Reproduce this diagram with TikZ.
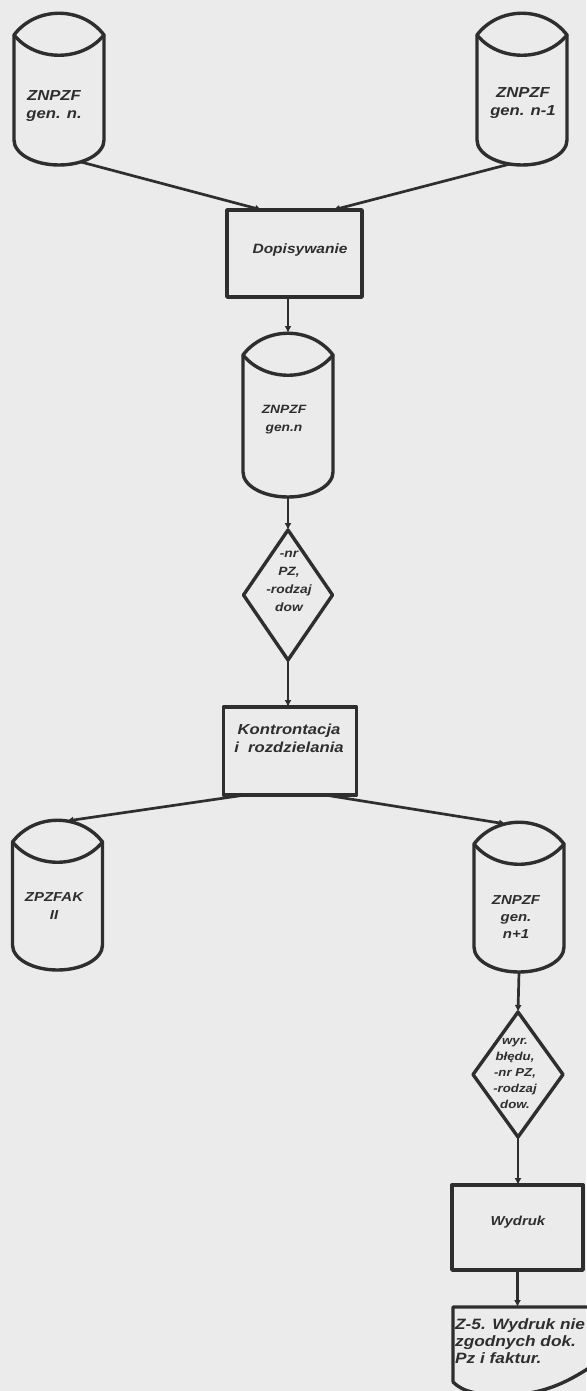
\documentclass[tikz,border=0pt]{standalone}
\usepackage{fontspec}
\newfontfamily\lblfont[FakeStretch=1.15]{Liberation Sans}
\usetikzlibrary{shapes.geometric,arrows.meta,calc}

\definecolor{ink}{HTML}{2E2E2E}
\definecolor{paper}{HTML}{EBEBEB}

\tikzset{
  shp/.style={draw=ink, line width=3.4pt, line join=round, line cap=round},
  holder/.style={inner sep=0pt, outer sep=0pt, minimum width=90pt},
  procbox/.style={shp, rectangle, inner sep=0pt, outer sep=0pt},
  decis/.style={shp, diamond, inner sep=0pt, outer sep=0pt},
  lbl/.style n args={2}{text=ink, align=center, inner sep=0pt,
    font=\lblfont\bfseries\itshape\fontsize{#1}{#2}\selectfont},
  flow/.style={draw=ink, line width=2.7pt, -{Latex[length=7pt,width=7pt]}},
}

% outline of a storage cylinder around an invisible holder node
\newcommand{\cylout}[1]{%
  \draw[shp] ([yshift=-22pt]#1.north west) -- ([yshift=25pt]#1.south west)
    arc[start angle=180,end angle=360,x radius=45pt,y radius=25pt]
    -- ([yshift=-22pt]#1.north east)
    .. controls ([shift={(-22pt,7pt)}]#1.north east) and ([shift={(22pt,7pt)}]#1.north west)
    .. ([yshift=-22pt]#1.north west);
  \draw[shp] ([yshift=-22pt]#1.north west)
    .. controls ([shift={(22pt,-49pt)}]#1.north west) and ([shift={(-22pt,-49pt)}]#1.north east)
    .. ([yshift=-22pt]#1.north east);
}

\begin{document}
\begin{tikzpicture}[x=1pt,y=1pt]
\useasboundingbox (0,0) rectangle (586,-1391);
\fill[paper] (0,0) rectangle (586,-1391);

% storage cylinders
\node[holder, minimum height=152pt] (c1) at (59,-89) {};
\node[holder, minimum height=152pt] (c2) at (522,-89) {};
\node[holder, minimum height=164pt] (c3) at (288,-415) {};
\node[holder, minimum height=150pt] (c4) at (57.5,-895) {};
\node[holder, minimum height=150pt] (c5) at (519,-897) {};
\cylout{c1}\cylout{c2}\cylout{c3}\cylout{c4}\cylout{c5}

\node[lbl={14.5pt}{18pt}] (c1l) at (54,-106) {ZNPZF\\gen. n.};
\node[lbl={14.5pt}{18pt}] (c2l) at (523,-103) {ZNPZF\\gen. n-1};
\node[lbl={12pt}{18pt}] (c3l) at (284,-420) {ZNPZF\\gen.n};
\node[lbl={13pt}{18pt}] (c4l) at (54,-906) {ZPZFAK\\II};
\node[lbl={13pt}{17pt}] (c5l) at (516,-917) {ZNPZF\\gen.\\n+1};

% processes
\node[procbox, minimum width=135pt, minimum height=87pt] (b1) at (294.5,-253.5) {};
\node[lbl={13.5pt}{16pt}] (b1l) at (300,-250) {Dopisywanie};
\node[procbox, minimum width=133pt, minimum height=88pt] (b2) at (290,-751) {};
\node[lbl={14.5pt}{18pt}] (b2l) at (289,-738) {Kontrontacja\\i\ \ rozdzielania};
\node[procbox, minimum width=131pt, minimum height=85pt] (b3) at (517.5,-1227.5) {};
\node[lbl={13pt}{15pt}] (b3l) at (518,-1222) {Wydruk};

% decisions
\node[decis, minimum width=89pt, minimum height=130pt] (d1) at (288,-595) {};
\node[lbl={12pt}{18pt}] (d1l) at (289,-581) {-nr\\PZ,\\-rodzaj\\dow};
\node[decis, minimum width=90pt, minimum height=125pt] (d2) at (518,-1074.5) {};
\node[lbl={11.5pt}{16pt}] (d2l) at (515,-1073) {wyr.\\błędu,\\-nr PZ,\\-rodzaj\\dow.};

% printed document
\node[inner sep=0pt, outer sep=0pt, minimum width=139pt, minimum height=75pt] (doc) at (522.5,-1344.5) {};
\draw[shp] (doc.south west) -- (doc.north west) -- (doc.north east) -- ([yshift=16pt]doc.south east)
  .. controls ([shift={(-27pt,-2pt)}]doc.south east) and ([shift={(-52pt,-13pt)}]doc.south east)
  .. ([shift={(-87pt,-13pt)}]doc.south east)
  .. controls ([shift={(25pt,-13pt)}]doc.south west) and ([shift={(10pt,-10pt)}]doc.south west)
  .. (doc.south west);
\node[lbl={15pt}{17pt}, align=left, anchor=north west] (docl) at (455,-1318)
  {Z-5. Wydruk nie\\zgodnych dok.\\Pz i faktur.};

% flow lines
\draw[flow] ([shift={(22pt,3pt)}]c1.south) -- ([xshift=-32.5pt]b1.north);
\draw[flow] ([shift={(-12pt,1pt)}]c2.south) -- ([xshift=38.5pt]b1.north);
\draw[flow] (c3.north |- b1.south) -- (c3.north);
\draw[flow] (c3.south) -- (d1.north);
\draw[flow] (d1.south) -- (d1.south |- b2.north);
\draw[flow] ([xshift=-45pt]b2.south) -- ([shift={(9pt,-1pt)}]c4.north);
\draw[flow] ([xshift=35pt]b2.south) -- ([shift={(-13pt,-2pt)}]c5.north);
\draw[flow] (c5.south) -- (d2.north);
\draw[flow] (d2.south) -- (d2.south |- b3.north);
\draw[flow] (b3.south) -- (b3.south |- doc.north);
\end{tikzpicture}
\end{document}
